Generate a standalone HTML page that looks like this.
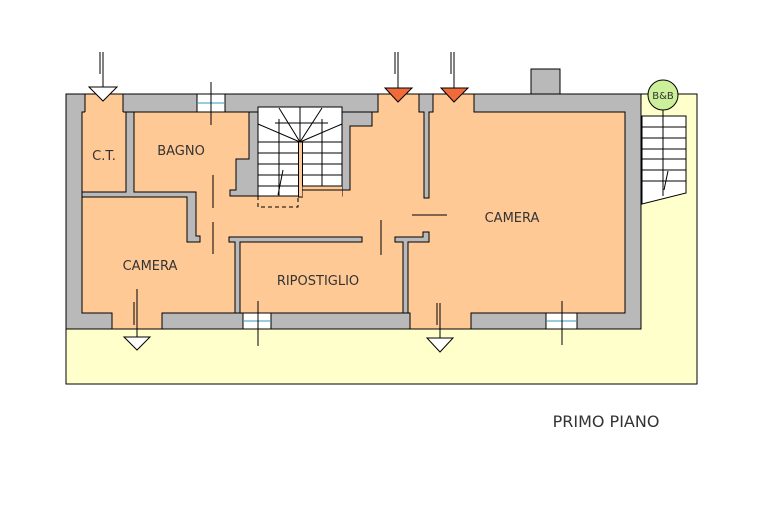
<!DOCTYPE html>
<html><head><meta charset="utf-8"><style>
html,body{margin:0;padding:0;background:#fff;width:780px;height:519px;overflow:hidden}
svg{display:block}
text{font-family:"DejaVu Sans","Liberation Sans",sans-serif;fill:#333}
</style></head><body>
<svg width="780" height="519" viewBox="0 0 780 519" xmlns="http://www.w3.org/2000/svg">
<!-- yard -->
<polygon points="641,94 697,94 697,384 66,384 66,329 641,329" fill="#ffffcc" stroke="#000" stroke-width="1"/>
<!-- building gray -->
<rect x="66" y="94" width="575" height="235" fill="#b9b9b9" stroke="#000" stroke-width="1"/>
<!-- chimney -->
<rect x="531" y="69" width="29" height="25" fill="#b9b9b9" stroke="#000"/>
<!-- interior -->
<rect x="82" y="112" width="543" height="201" fill="#ffc996" stroke="#000" stroke-width="1"/>
<!-- openings (orange) -->
<g fill="#ffc996">
<rect x="85" y="94" width="38" height="18.5"/>
<rect x="378.5" y="94" width="41" height="18.5"/>
<rect x="433.5" y="94" width="40" height="18.5"/>
<rect x="112.5" y="312" width="49" height="17"/>
<rect x="410.5" y="312" width="60" height="17"/>
</g>
<g stroke="#000" stroke-width="1" fill="none">
<line x1="85" y1="94" x2="85" y2="112"/><line x1="123" y1="94" x2="123" y2="112"/>
<line x1="378" y1="94" x2="378" y2="112"/><line x1="474" y1="94" x2="474" y2="112"/>
<line x1="112" y1="313" x2="112" y2="329"/><line x1="162" y1="313" x2="162" y2="329"/>
<line x1="410" y1="313" x2="410" y2="329"/><line x1="471" y1="313" x2="471" y2="329"/>
</g>
<!-- interior walls -->
<g fill="#b9b9b9" stroke="#000" stroke-width="1">
<polygon points="126,112 134,112 134,192 196,192 196,236 200,236 200,242 187,242 187,197 82,197 82,192 126,192"/>
<polygon points="249,112 258,112 258,196 230,196 230,190 236,190 236,159 249,159"/>
<polygon points="342,112 342,190 350,190 350,126 372,126 372,112"/>
<polygon points="419,94 433,94 433,112 429,112 429,198 424,198 424,112 419,112"/>
<polygon points="229,237 362,237 362,242 240,242 240,313 235,313 235,242 229,242"/>
<polygon points="395,237 423,237 423,232 429,232 429,242 408,242 408,313 403,313 403,242 395,242"/>
</g>
<!-- stairs -->
<rect x="258" y="107" width="84" height="89" fill="#fff" stroke="#000"/>
<rect x="298.5" y="142" width="4" height="55" fill="#ffc996" stroke="#000"/>
<rect x="302.5" y="186" width="39.5" height="11" fill="#ffc996"/>
<line x1="302" y1="186" x2="342" y2="186" stroke="#000"/>
<line x1="302" y1="190" x2="342" y2="190" stroke="#000"/>
<g stroke="#000" stroke-width="1" fill="none">
<line x1="258" y1="142" x2="342" y2="142"/>
<line x1="258" y1="153" x2="298" y2="153"/><line x1="302" y1="153" x2="342" y2="153"/>
<line x1="258" y1="164" x2="298" y2="164"/><line x1="302" y1="164" x2="342" y2="164"/>
<line x1="258" y1="175" x2="298" y2="175"/><line x1="302" y1="175" x2="342" y2="175"/>
<line x1="258" y1="186" x2="298" y2="186"/>
<line x1="279" y1="119" x2="279" y2="196"/><line x1="322" y1="119" x2="322" y2="186"/>
<line x1="275" y1="123" x2="328" y2="123"/>
<line x1="300" y1="142" x2="258" y2="124"/><line x1="300" y1="142" x2="279" y2="108"/><line x1="300" y1="142" x2="300" y2="107"/>
<line x1="300" y1="142" x2="322" y2="108"/><line x1="300" y1="142" x2="342" y2="124"/>
<line x1="283" y1="170" x2="278" y2="195"/>
<rect x="258" y="196" width="40" height="11" stroke-dasharray="4,3"/>
</g>
<!-- windows -->
<g stroke="#000" stroke-width="1">
<rect x="197" y="94" width="28" height="18" fill="#fff"/>
<rect x="243" y="313" width="28" height="16" fill="#fff"/>
<rect x="546" y="313" width="31" height="16" fill="#fff"/>
</g>
<g stroke="#3399bb" stroke-width="1">
<line x1="197" y1="103" x2="225" y2="103"/><line x1="243" y1="321" x2="271" y2="321"/><line x1="546" y1="321" x2="577" y2="321"/>
</g>
<!-- building outline on top -->
<rect x="66" y="94" width="575" height="235" fill="none" stroke="#000" stroke-width="1"/>
<!-- thin lines -->
<g stroke="#000" stroke-width="1" fill="none">
<line x1="211" y1="82" x2="211" y2="125"/>
<line x1="258" y1="301" x2="258" y2="346"/>
<line x1="562" y1="301" x2="562" y2="345"/>
<line x1="213" y1="175" x2="213" y2="208"/><line x1="213" y1="222" x2="213" y2="254"/>
<line x1="381" y1="220" x2="381" y2="255"/>
<line x1="412" y1="215" x2="447" y2="215"/>
<line x1="100" y1="52" x2="100" y2="74"/><line x1="103" y1="52" x2="103" y2="101"/>
<line x1="395" y1="52" x2="395" y2="74"/><line x1="398" y1="52" x2="398" y2="102"/>
<line x1="451" y1="52" x2="451" y2="74"/><line x1="454" y1="52" x2="454" y2="102"/>
<line x1="137" y1="289" x2="137" y2="350"/><line x1="134" y1="302" x2="134" y2="325"/>
<line x1="440" y1="303" x2="440" y2="352"/><line x1="437" y1="303" x2="437" y2="325"/>
</g>
<polygon points="89,87 117,87 103,101" fill="#fff" stroke="#000"/>
<polygon points="385,88 412,88 398,102" fill="#f06a3a" stroke="#000"/>
<polygon points="441,88 468,88 454,102" fill="#f06a3a" stroke="#000"/>
<polygon points="124,337 150,337 137,350" fill="#fff" stroke="#000"/>
<polygon points="427,338 453,338 440,352" fill="#fff" stroke="#000"/>
<!-- outdoor stairs -->
<polygon points="642,116 686,116 686,193 642,204" fill="#fff" stroke="#000"/>
<g stroke="#000" stroke-width="1">
<line x1="642" y1="127" x2="686" y2="127"/><line x1="642" y1="138" x2="686" y2="138"/>
<line x1="642" y1="149" x2="686" y2="149"/><line x1="642" y1="159" x2="686" y2="159"/>
<line x1="642" y1="170" x2="686" y2="170"/><line x1="642" y1="181" x2="686" y2="181"/>
<line x1="663" y1="110" x2="663" y2="196"/><line x1="668" y1="171" x2="664" y2="190"/>
</g>
<circle cx="663" cy="95" r="15" fill="#ccef99" stroke="#000"/>
<text x="663" y="99" font-size="10" text-anchor="middle">B&amp;B</text>
<!-- labels -->
<text x="104" y="160" font-size="13" text-anchor="middle">C.T.</text>
<text x="181" y="155" font-size="13" text-anchor="middle">BAGNO</text>
<text x="150" y="270" font-size="13" text-anchor="middle">CAMERA</text>
<text x="318" y="285" font-size="13" text-anchor="middle">RIPOSTIGLIO</text>
<text x="512" y="222" font-size="13" text-anchor="middle">CAMERA</text>
<text x="606" y="427" font-size="16" text-anchor="middle">PRIMO PIANO</text>
</svg>
</body></html>
